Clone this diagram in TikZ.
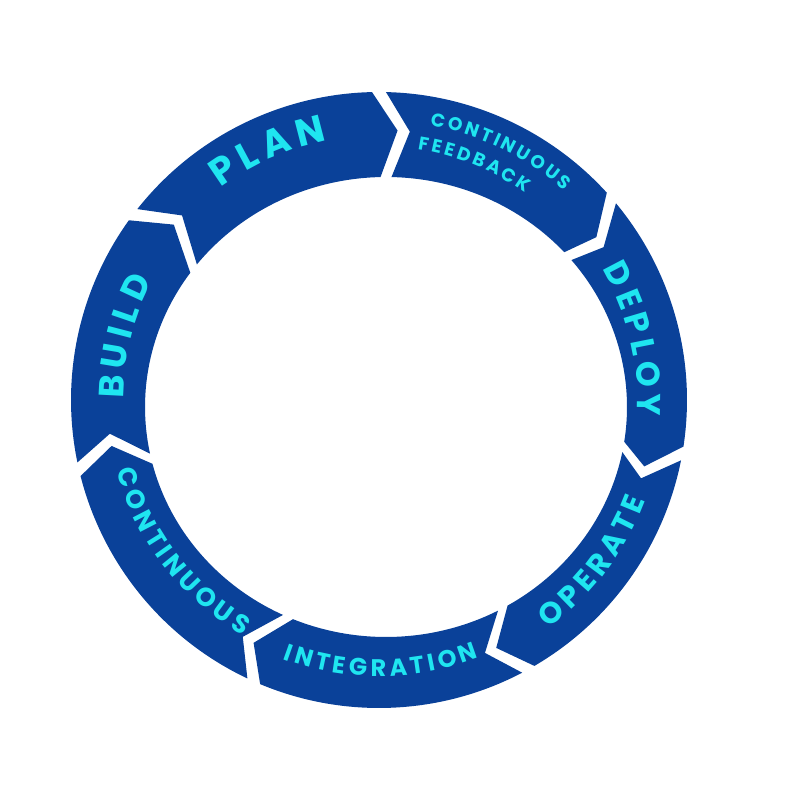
\documentclass[tikz,border=0pt]{standalone}
\usepackage{fontspec}
\newfontfamily\labelfont{Poppins}
\usetikzlibrary{decorations.text}
\definecolor{ringblue}{HTML}{0A4199}
\definecolor{labelcyan}{HTML}{1FE5F0}
\tikzset{
  ringseg/.style={fill=ringblue},
  arclabel/.style={decorate, decoration={text effects along path, text={#1}, text align=center,
    text effects/.cd, characters={text=labelcyan, anchor=base, transform shape},
    character widths={inner xsep=0.08em}}}
}
\begin{document}
\begin{tikzpicture}[x=1pt, y=1pt]
  \useasboundingbox (0,0) rectangle (800,800);
  % centres of the ring
  \coordinate (oc) at (379,400);
  \coordinate (ic) at (386,393);
  \coordinate (mc) at (380,398);

  % arrow segments, clockwise
  \foreach \from/\to in {193/143, 143/90, 90/41, 41/-10, -10/-61, -61/-114, -114/-167}
    \fill[ringseg] ([shift={(\from-1.3:308pt)}]oc) arc[start angle=\from-1.3, end angle=\to+1.3, radius=308pt]
      -- ([shift={(\to-3.7:272pt)}]mc)
      -- ([shift={(\to+1.3:241pt and 230pt)}]ic) arc[start angle=\to+1.3, end angle=\from-1.3, x radius=241pt, y radius=230pt]
      -- ([shift={(\from-6.3:272pt)}]mc) -- cycle;

  % labels, upper half read clockwise
  {\labelfont\bfseries\fontsize{38}{40}\selectfont
   \path[arclabel=PLAN] ([shift={(154:264.7pt)}]oc) arc[start angle=154, end angle=74, radius=264.7pt];}
  {\labelfont\bfseries\fontsize{18.5}{20}\selectfont
   \path[arclabel=CONTINUOUS] ([shift={(104:279.5pt)}]oc) arc[start angle=104, end angle=24, radius=279.5pt];
   \path[arclabel=FEEDBACK] ([shift={(108:253.5pt)}]oc) arc[start angle=108, end angle=28, radius=253.5pt];}
  {\labelfont\bfseries\fontsize{33}{35}\selectfont
   \path[arclabel=DEPLOY] ([shift={(53.5:258.5pt)}]oc) arc[start angle=53.5, end angle=-26.5, radius=258.5pt];}
  {\labelfont\bfseries\fontsize{35}{37}\selectfont
   \path[arclabel=BUILD] ([shift={(206:255.7pt)}]oc) arc[start angle=206, end angle=126, radius=255.7pt];}

  % labels, lower half read anticlockwise
  {\labelfont\bfseries\fontsize{30}{32}\selectfont
   \path[arclabel=OPERATE] ([shift={(-77:284.5pt)}]oc) arc[start angle=-77, end angle=3, radius=284.5pt];}
  {\labelfont\bfseries\fontsize{24}{26}\selectfont
   \path[arclabel=INTEGRATION] ([shift={(-129.6:276.5pt)}]oc) arc[start angle=-129.6, end angle=-49.6, radius=276.5pt];}
  {\labelfont\bfseries\fontsize{26}{28}\selectfont
   \path[arclabel=CONTINUOUS] ([shift={(-182.5:272pt)}]oc) arc[start angle=-182.5, end angle=-102.5, radius=272pt];}
\end{tikzpicture}
\end{document}
